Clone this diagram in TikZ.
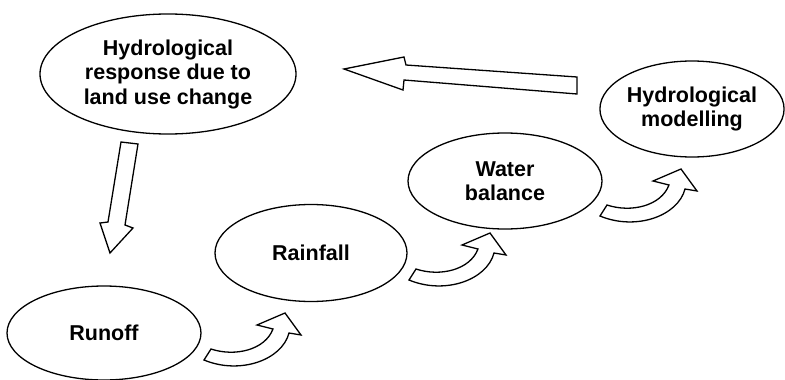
\documentclass[tikz,border=0pt]{standalone}
\usepackage{fontspec}
\setmainfont{Liberation Sans}
\usepackage{tikz}
\usetikzlibrary{shapes.geometric, positioning, calc}

\tikzset{
    stage/.style={ellipse, draw, line width=1.3pt, inner sep=0pt, align=center,
        font=\fontsize{21.5}{24.5}\selectfont\bfseries},
    blockarrow/.style={draw, line width=1.3pt, fill=white, line join=miter},
    turnarrow/.pic={
        \draw[blockarrow] (0,0) .. controls (24,8) and (54,1) .. (62,-20)
            -- (46,-24) -- (74,-36) -- (90,-14) -- (78,-16)
            .. controls (71,11) and (29,26) .. (-7,11) -- cycle;
    }
}

\begin{document}
\begin{tikzpicture}[x=1pt, y=-1pt]
    \useasboundingbox (0,0) rectangle (785,380);

    % Stages
    \node[stage, minimum width=256, minimum height=120] (response) at (168,74)
        {Hydrological\\response due to\\land use change};
    \node[stage, minimum width=184, minimum height=96] (modelling) at (692,109)
        {Hydrological\\modelling};
    \node[stage, minimum width=194, minimum height=96] (balance) at (505,181)
        {Water\\balance};
    \node[stage, minimum width=192, minimum height=97] (rainfall) at (311,253)
        {Rainfall};
    \node[stage, minimum width=194, minimum height=94] (runoff) at (104,333)
        {Runoff};

    % Back to the land use response
    \draw[blockarrow] (344,69) -- (404,57) -- (406,65) -- (577,77) -- (577,94)
        -- (404,80) -- (403,90) -- cycle;

    % Down to runoff
    \draw[blockarrow] (121,142) -- (138,144) -- (125,225) -- (133,228) -- (110,253)
        -- (100,223) -- (108,222) -- cycle;

    % Curved steps
    \coordinate (step1) at (211,349);
    \coordinate (step2) at (416,269);
    \coordinate (step3) at (607,205);
    \pic at (step1) {turnarrow};
    \pic at (step2) {turnarrow};
    \pic at (step3) {turnarrow};
\end{tikzpicture}
\end{document}
